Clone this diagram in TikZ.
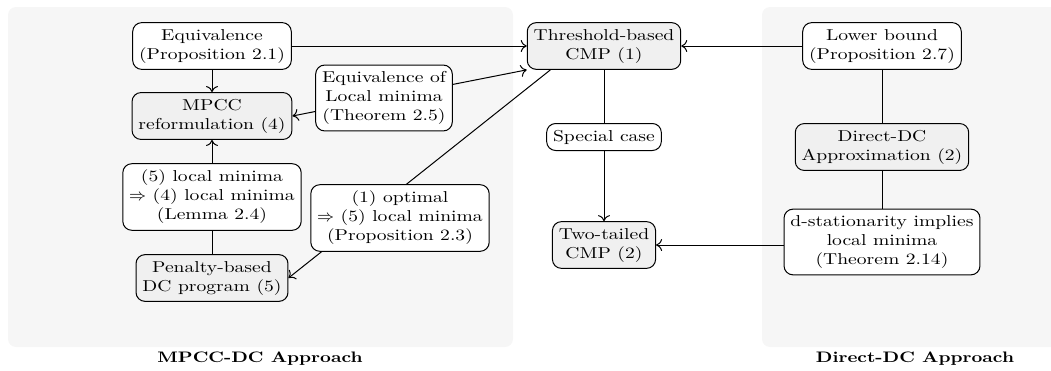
\documentclass[tikz,border=0pt]{standalone}
\usepackage{fontspec}
\setmainfont{lmroman10-regular.otf}[FakeStretch=1.24,BoldFont=lmroman10-bold.otf]
\usetikzlibrary{arrows.meta,calc}
\pgfdeclarelayer{panel}
\pgfdeclarelayer{edges}
\pgfsetlayers{panel,edges,main}
\begin{document}
\begin{tikzpicture}[x=0.5pt,y=-0.5pt,
  box/.style={draw=black, line width=0.5pt, rounded corners=4.5pt, fill=white,
    align=center, inner xsep=3.2pt, inner ysep=3.2pt,
    font=\fontsize{7.9pt}{9.5pt}\selectfont},
  keybox/.style={box, fill=gray!12},
  conn/.style={draw=black, line width=0.5pt},
  arr/.style={conn, -{To[length=3pt,width=6pt]}},
  barr/.style={conn, {To[length=3pt,width=6pt]}-{To[length=3pt,width=6pt]}},
  panelbg/.style={fill=gray!7, rounded corners=4pt},
  caption/.style={font=\fontsize{7.6pt}{9pt}\selectfont\bfseries}]
\useasboundingbox (0,0) rectangle (1051,370);

\begin{pgfonlayer}{panel}
  \path[panelbg] (8,7) rectangle (513,347);
  \path[panelbg] (762,7) rectangle (1075,347);
\end{pgfonlayer}

% left panel
\node[box]    (eq)   at (212,46)  {Equivalence\\(Proposition 2.1)};
\node[keybox] (mpcc) at (212,116) {MPCC\\reformulation (4)};
\node[box]    (eqlm) at (384,98)  {Equivalence of\\Local minima\\(Theorem 2.5)};
\node[box]    (lem)  at (212,197) {(5) local minima\\$\Rightarrow$ (4) local minima\\(Lemma 2.4)};
\node[box]    (opt)  at (400,218) {(1) optimal\\$\Rightarrow$ (5) local minima\\(Proposition 2.3)};
\node[keybox] (pen)  at (212,278) {Penalty-based\\DC program (5)};

% middle
\node[keybox] (thr)  at (604,46)  {Threshold-based\\CMP (1)};
\node[box]    (spc)  at (604,137) {Special case};
\node[keybox] (two)  at (604,245) {Two-tailed\\CMP (2)};

% right panel
\node[box]    (lb)   at (882,46)  {Lower bound\\(Proposition 2.7)};
\node[keybox] (dd)   at (882,147) {Direct-DC\\Approximation (2)};
\node[box]    (ds)   at (882,242) {d-stationarity implies\\local minima\\(Theorem 2.14)};

% captions
\node[caption] (capL) at (260,359) {MPCC-DC Approach};
\node[caption] (capR) at (915,359) {Direct-DC Approach};

\begin{pgfonlayer}{edges}
  \draw[arr]  (eq) -- (thr);
  \draw[arr]  (eq) -- (mpcc);
  \draw[barr] (mpcc.east) -- (thr.south west);
  \draw[arr]  (thr.-156) -- (pen.east);
  \draw[arr]  (pen) -- (mpcc);
  \draw[arr]  (thr) -- (two);
  \draw[arr]  (dd.north) |- (thr.east);
  \draw[arr]  (dd.south) |- (two.east);
\end{pgfonlayer}
\end{tikzpicture}
\end{document}
